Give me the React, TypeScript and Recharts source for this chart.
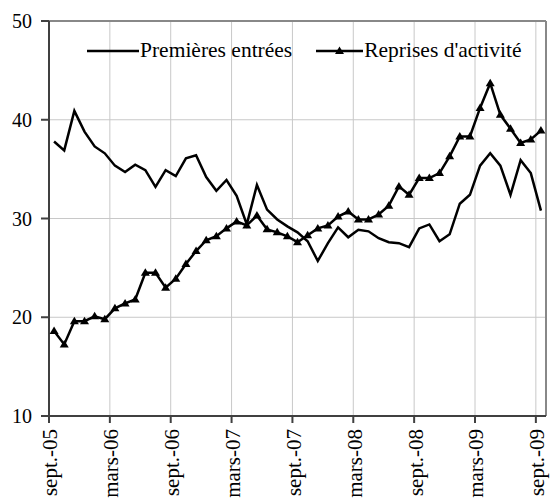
import { LineChart, Line, XAxis, YAxis, CartesianGrid, Legend, ReferenceLine } from "recharts";

const months = [
  "sept.-05", "oct.-05", "nov.-05", "déc.-05", "janv.-06", "févr.-06",
  "mars-06", "avr.-06", "mai-06", "juin-06", "juil.-06", "août-06",
  "sept.-06", "oct.-06", "nov.-06", "déc.-06", "janv.-07", "févr.-07",
  "mars-07", "avr.-07", "mai-07", "juin-07", "juil.-07", "août-07",
  "sept.-07", "oct.-07", "nov.-07", "déc.-07", "janv.-08", "févr.-08",
  "mars-08", "avr.-08", "mai-08", "juin-08", "juil.-08", "août-08",
  "sept.-08", "oct.-08", "nov.-08", "déc.-08", "janv.-09", "févr.-09",
  "mars-09", "avr.-09", "mai-09", "juin-09", "juil.-09", "août-09",
  "sept.-09",
];

const premieres = [
  37.8, 36.9, 40.9, 38.8, 37.3, 36.6, 35.35, 34.7, 35.45, 34.9, 33.2, 34.9,
  34.3, 36.1, 36.4, 34.2, 32.8, 33.9, 32.3, 29.4, 33.4, 30.9, 29.9, 29.2,
  28.6, 27.7, 25.7, 27.5, 29.1, 28.1, 28.85, 28.7, 28.0, 27.6, 27.5, 27.1,
  29.0, 29.4, 27.7, 28.4, 31.5, 32.4, 35.35, 36.6, 35.35, 32.4, 35.9, 34.6,
  30.8,
];

const reprises = [
  18.6, 17.25, 19.6, 19.6, 20.1, 19.8, 20.9, 21.4, 21.8, 24.5, 24.5, 23.0,
  23.9, 25.4, 26.7, 27.8, 28.2, 29.0, 29.7, 29.3, 30.3, 28.9, 28.6, 28.2,
  27.6, 28.3, 29.0, 29.3, 30.2, 30.7, 29.9, 29.9, 30.4, 31.3, 33.25, 32.4,
  34.1, 34.1, 34.6, 36.3, 38.3, 38.3, 41.2, 43.7, 40.5, 39.1, 37.65, 38.0,
  38.9,
];

const tickLabels = [
  "sept.-05", "mars-06", "sept.-06", "mars-07", "sept.-07",
  "mars-08", "sept.-08", "mars-09", "sept.-09",
];
const yTicks = [10, 20, 30, 40, 50];

const data = months.map((label, m) => ({
  m,
  label,
  premieres: premieres[m],
  reprises: reprises[m],
}));

// ticks sit between categories, like the spreadsheet original
const xTicks = tickLabels.map((t) => months.indexOf(t) - 0.5);

const FONT = '"Liberation Serif", "Times New Roman", serif';

function Triangle({ cx, cy }: { cx?: number; cy?: number }) {
  if (cx == null || cy == null) return null;
  return (
    <polygon
      points={`${cx},${cy - 4.5} ${cx - 4.5},${cy + 3} ${cx + 4.5},${cy + 3}`}
      fill="#000"
    />
  );
}

function MonthTick({ x, y, payload }: { x?: number; y?: number; payload?: { value: number } }) {
  if (x == null || y == null || !payload) return null;
  const label = months[Math.round(payload.value + 0.5)];
  return (
    <text
      x={x}
      y={y + 4}
      dy="0.4em"
      transform={`rotate(-90, ${x}, ${y + 4})`}
      textAnchor="end"
      fontFamily={FONT}
      fontSize={21}
      fill="#000"
    >
      {label}
    </text>
  );
}

function ChartLegend() {
  return (
    <div style={{ display: "flex", alignItems: "center", fontFamily: FONT, fontSize: 21.5, color: "#000", whiteSpace: "nowrap" }}>
      <svg width={52} height={12}>
        <line x1={0} y1={6} x2={52} y2={6} stroke="#000" strokeWidth={2.5} />
      </svg>
      <span style={{ marginLeft: 1 }}>Premières entrées</span>
      <svg width={47} height={12} style={{ marginLeft: 24 }}>
        <line x1={0} y1={6} x2={47} y2={6} stroke="#000" strokeWidth={2.5} />
        <polygon points="23.5,1.5 19,9 28,9" fill="#000" />
      </svg>
      <span style={{ marginLeft: 1 }}>Reprises d'activité</span>
    </div>
  );
}

export default function App() {
  return (
    <div style={{ position: "absolute", left: 0, top: 0, width: 550, height: 500, background: "#fff" }}>
      <LineChart width={550} height={500} data={data} margin={{ top: 21, right: 4, left: 0, bottom: 0 }}>
        <CartesianGrid stroke="#c8c8c8" strokeWidth={1} />
        <XAxis
          type="number"
          dataKey="m"
          domain={[-0.5, 48.5]}
          ticks={xTicks}
          interval={0}
          tick={<MonthTick />}
          tickSize={7}
          height={84}
          stroke="#404040"
          strokeWidth={2}
          allowDataOverflow
        />
        <YAxis
          type="number"
          domain={[10, 50]}
          ticks={yTicks}
          interval={0}
          width={49}
          tickSize={8}
          tickMargin={9}
          stroke="#404040"
          strokeWidth={2}
          tick={{ fontFamily: FONT, fontSize: 20, fill: "#000" }}
        />
        <ReferenceLine y={50} stroke="#888" strokeWidth={2} />
        <ReferenceLine x={48.5} stroke="#888" strokeWidth={2} />
        <Legend
          layout="horizontal"
          verticalAlign="middle"
          content={<ChartLegend />}
          wrapperStyle={{ top: 38, left: 87, width: "auto" }}
        />
        <Line
          type="linear"
          dataKey="premieres"
          stroke="#000"
          strokeWidth={2.5}
          dot={false}
          activeDot={false}
          isAnimationActive={false}
        />
        <Line
          type="linear"
          dataKey="reprises"
          stroke="#000"
          strokeWidth={2.5}
          dot={<Triangle />}
          activeDot={false}
          isAnimationActive={false}
        />
      </LineChart>
    </div>
  );
}
